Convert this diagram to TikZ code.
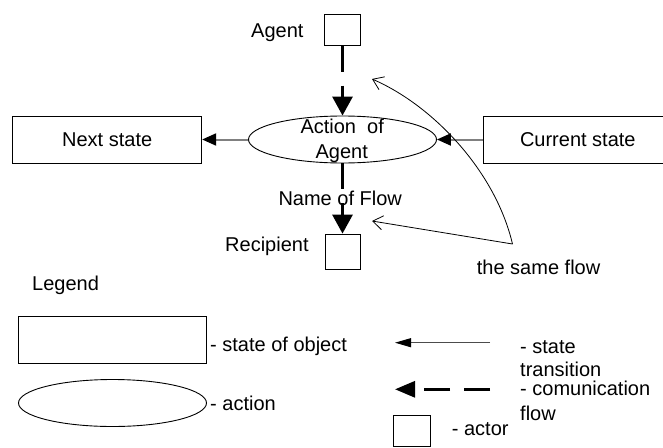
\documentclass[tikz,border=0pt]{standalone}
\usepackage{fontspec}
\setmainfont{Liberation Sans}
\usetikzlibrary{shapes.geometric,arrows.meta}
\begin{document}
\begin{tikzpicture}[x=1pt,y=-1pt,
  txt/.style={font=\fontsize{20}{24}\selectfont, inner sep=0pt, anchor=base west},
  statebox/.style={draw, line width=0.9pt, rectangle, minimum width=189pt, minimum height=47pt, inner sep=0pt, font=\fontsize{20}{24}\selectfont},
  actbox/.style={draw, line width=0.9pt, rectangle, inner sep=0pt},
  actell/.style={draw, line width=0.9pt, ellipse, minimum width=188pt, minimum height=47pt, inner sep=0pt},
  comm/.style={line width=3pt, dash pattern=on 26pt off 14pt, -{Triangle[length=19pt,width=20pt]}},
  trans/.style={line width=2pt, draw=black!50, -{Triangle[length=14pt,width=12pt,color=black]}},
  same/.style={line width=0.8pt, -{Straight Barb[length=10pt,width=14pt]}},
]
\useasboundingbox (0,0) rectangle (663,447);
\clip (0,0) rectangle (663,447);

% main diagram
\node[actbox, minimum width=36pt, minimum height=30.7pt] (agent) at (342.5,29.7) {};
\node[txt] (agentlbl) at (251,37.7) {Agent};
\node[actell] (act) at (342.5,139.5) {};
\node[txt, anchor=base] (act1) at (342.2,133) {Action~ of};
\node[txt, anchor=base] (act2) at (341.7,158) {Agent};
\node[statebox] (next) at (107.2,139.5) {Next state};
\node[statebox] (cur) at (577.8,139.5) {Current state};
\node[actbox, minimum width=35pt, minimum height=35.3pt] (rec) at (342.5,251.7) {};
\node[txt] (reclbl) at (225,251.7) {Recipient};
\node[txt] (flowlbl) at (278.3,205) {Name of Flow};
\node[txt] (samelbl) at (476.7,274) {the same flow};
\coordinate (same) at (512.5,244);
\coordinate (sametop) at (372,79);
\coordinate (samemid) at (372,221);

\draw[comm] (agent.south) -- (act.north);
\draw[comm] (act.south) -- (rec.north);
\draw[trans] (cur.west) -- (act.east);
\draw[trans] (act.west) -- (next.east);
\draw[same] (same) .. controls (495,170) and (432,105) .. (sametop);
\draw[same] (same) -- (samemid);

% legend
\node[txt] (leg) at (32,290) {Legend};
\node[statebox, minimum width=188.4pt, minimum height=46.6pt] (legbox) at (112.5,340) {};
\node[txt] (legboxlbl) at (210,351.7) {- state of object};
\node[actell] (legell) at (112.5,403) {};
\node[txt] (legelllbl) at (210,410) {- action};
\coordinate (lt1) at (490,342.7);
\coordinate (lt2) at (395,342.7);
\draw[line width=1pt, draw=black!70, -{Triangle[length=16pt,width=9pt,color=black]}] (lt1) -- (lt2);
\node[txt] (ltlbl1) at (520,353) {- state};
\node[txt, text depth=0pt] (ltlbl2) at (520,376) {transition};
\coordinate (lc1) at (490,389.3);
\coordinate (lc2) at (395,389.3);
\draw[line width=3pt, dash pattern=on 26pt off 14pt, -{Triangle[length=20pt,width=16pt]}] (lc1) -- (lc2);
\node[txt, text height=12pt] (lclbl1) at (520,395) {- comunication};
\node[txt] (lclbl2) at (520,420.5) {flow};
\node[actbox, minimum width=36.7pt, minimum height=31pt] (actor) at (411.7,430.5) {};
\node[txt] (actorlbl) at (451.7,435) {- actor};
\end{tikzpicture}
\end{document}
